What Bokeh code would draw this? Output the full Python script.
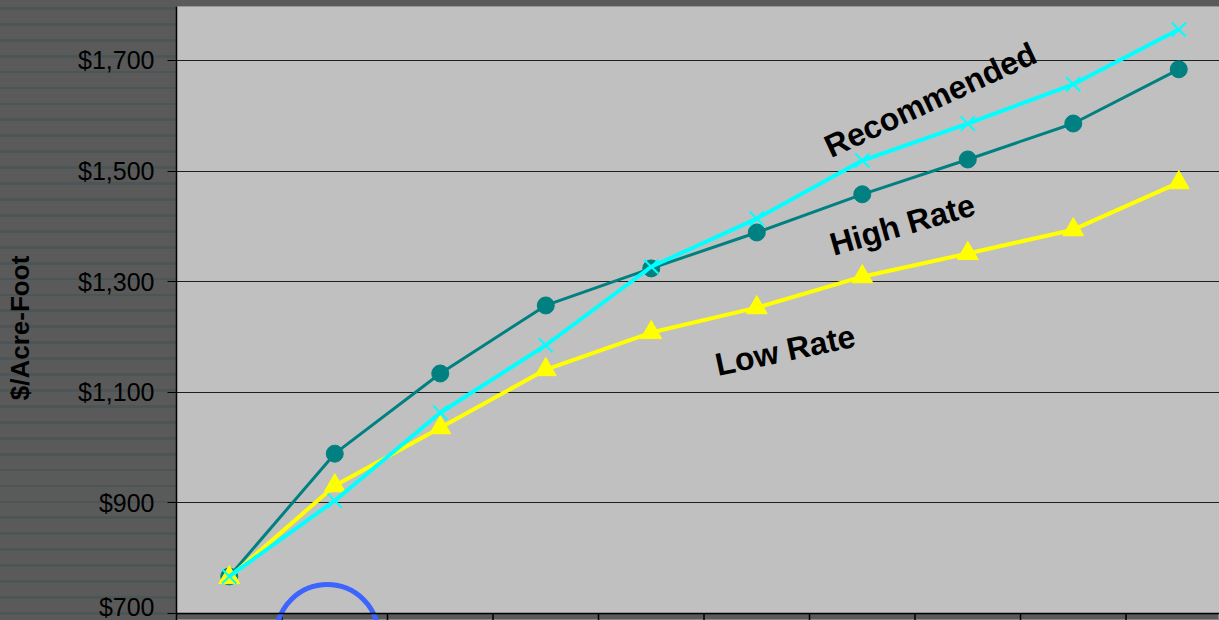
from bokeh.plotting import figure
from bokeh.models import Range1d, FixedTicker, NumeralTickFormatter, BoxAnnotation, Span, ColumnDataSource
from bokeh.core.properties import value
from bokeh.embed import file_html
from bokeh.resources import INLINE

# ---- data ----
periods = list(range(1, 11))
high_rate = [767, 989, 1134, 1257, 1324, 1389, 1458, 1521, 1586, 1684]
recommended = [767, 904, 1063, 1185, 1327, 1414, 1519, 1586, 1657, 1756]
low_rate = [765, 931, 1036, 1141, 1208, 1253, 1309, 1351, 1394, 1479]
y_ticks = [700, 900, 1100, 1300, 1500, 1700]
label_text = ["Recommended", "High Rate", "Low Rate"]
y_title = "$/Acre-Foot"

# annotation placement (not data)
label_x = [6.16, 6.20, 5.11]
label_y = [1541, 1366, 1149]
label_angle = [25, 16, 12]

xs = [p - 0.5 for p in periods]
x_ticks = periods[:-1]

p = figure(width=1219, height=620, output_backend="svg", toolbar_location=None,
           x_range=Range1d(0, 9.886), y_range=Range1d(687.3, 1797.6),
           min_border_left=176, min_border_right=0, min_border_top=6, min_border_bottom=0)

p.styles = {"background": "repeating-linear-gradient(to bottom, #5a5a5a 0px, #5a5a5a 7px, "
                          "#4c5656 7px, #4c5656 9.8px, #5a5a5a 9.8px, #5a5a5a 15.92px)"}
p.border_fill_alpha = 0
p.background_fill_alpha = 0
p.outline_line_color = "#8a8a8a"

# plot area fill (above the $700 baseline)
p.add_layout(BoxAnnotation(bottom=700, fill_color="#c0c0c0", fill_alpha=1, line_alpha=0, level="image"))

p.xaxis.visible = False
p.xgrid.visible = False
p.ygrid.ticker = FixedTicker(ticks=y_ticks)
p.ygrid.grid_line_color = "#1e1e1e"
p.ygrid.grid_line_width = 1

ax = p.yaxis[0]
ax.ticker = FixedTicker(ticks=y_ticks)
ax.formatter = NumeralTickFormatter(format="$0,0")
ax.major_label_text_font = "Liberation Sans"
ax.major_label_text_font_size = "25px"
ax.major_label_text_color = "black"
ax.major_label_standoff = 13
ax.major_tick_out = 9
ax.major_tick_in = 0
ax.minor_tick_out = 0
ax.minor_tick_in = 0
ax.major_tick_line_color = "black"
ax.axis_line_color = "black"
ax.axis_line_width = 1.5
# trailing no-break spaces push the title's centre down, as in the reference
ax.axis_label = y_title + "\u00a0" * 4
ax.axis_label_text_font = "Liberation Sans"
ax.axis_label_text_font_style = "bold"
ax.axis_label_text_font_size = "26px"
ax.axis_label_text_color = "black"
ax.axis_label_standoff = 40

# x baseline and tick marks
p.add_layout(Span(location=700, dimension="width", line_color="black", line_width=1.5))
p.segment(x0=x_ticks, y0=[700] * len(x_ticks), x1=x_ticks, y1=[680] * len(x_ticks),
          line_color="black", line_width=1.5)

src = ColumnDataSource(dict(x=xs, high=high_rate, rec=recommended, low=low_rate))

p.line("x", "high", source=src, line_color="#008080", line_width=3)
p.scatter("x", "high", source=src, marker="circle", size=17, fill_color="#008080", line_color="#008080")

p.line("x", "low", source=src, line_color="#ffff00", line_width=4)
p.scatter("x", "low", source=src, marker="triangle", size=21, fill_color="#ffff00", line_color="#ffff00")

p.line("x", "rec", source=src, line_color="#00ffff", line_width=4)
p.scatter("x", "rec", source=src, marker="x", size=20, line_color="#00ffff", line_width=2)

lsrc = ColumnDataSource(dict(x=label_x, y=label_y, t=label_text, a=label_angle))
p.text("x", "y", text="t", angle="a", angle_units="deg", source=lsrc,
       text_font=value("Liberation Sans"), text_font_style="bold", text_font_size="32px",
       text_color="black", text_align="left", text_baseline="alphabetic")

# blue highlight arc at the bottom
p.circle(x=[1.43], y=[660], radius=51, radius_units="screen", fill_alpha=0,
         line_color="#3c64ff", line_width=5)

open("out.html", "w").write(file_html(p, INLINE))
